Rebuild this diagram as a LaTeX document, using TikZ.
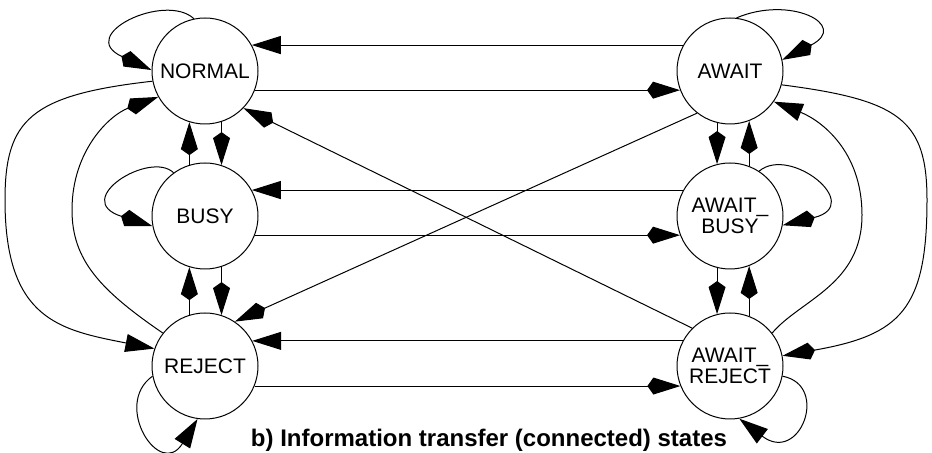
\documentclass[tikz,border=0pt]{standalone}
\usepackage{fontspec}
\setmainfont{Liberation Sans}
\usetikzlibrary{arrows.meta}

\begin{document}
\begin{tikzpicture}[x=0.5pt, y=-0.5pt, line width=0.5pt,
  state/.style={draw, circle, minimum size=53pt, inner sep=0pt, align=center,
    font=\fontsize{10.5}{10.5}\selectfont},
  flathead/.style={-{Triangle[length=14.5pt, width=9pt]}},
  kitehead/.style={-{Kite[length=16.5pt, width=8.5pt, inset=3pt]}}]

\useasboundingbox (0,0) rectangle (932,453);

\node[state] (normal) at (205,71) {NORMAL};
\node[state] (busy) at (205,216) {BUSY};
\node[state] (reject) at (205,366) {REJECT};
\node[state] (await) at (730,71) {AWAIT};
\node[state] (awaitbusy) at (730,216) {AWAIT\_\\BUSY};
\node[state] (awaitreject) at (730,366) {AWAIT\_\\REJECT};

% across
\draw[flathead] (await.151) -- (normal.29);
\draw[kitehead] (normal.-21) -- (await.201);
\draw[flathead] (awaitbusy.151) -- (busy.29);
\draw[kitehead] (busy.-21) -- (awaitbusy.201);
\draw[flathead] (awaitreject.152) -- (reject.28);
\draw[kitehead] (reject.-22) -- (awaitreject.202);

% up and down
\draw[kitehead] (busy.107) -- (normal.253);
\draw[kitehead] (normal.288) -- (busy.72);
\draw[kitehead] (reject.107) -- (busy.253);
\draw[kitehead] (busy.288) -- (reject.72);
\draw[kitehead] (await.256) -- (awaitbusy.104);
\draw[kitehead] (awaitbusy.69) -- (await.291);
\draw[kitehead] (awaitbusy.256) -- (awaitreject.104);
\draw[kitehead] (awaitreject.69) -- (awaitbusy.291);

% diagonals
\draw[kitehead] (awaitreject.135) -- (normal.-44);
\draw[kitehead] (await.232) -- (reject.56);

% self loops
\draw[kitehead] (normal.102) .. controls (165,-8) and (75,35) .. (normal.179);
\draw[kitehead] (busy.126) .. controls (150,150) and (70,200) .. (busy.191);
\draw[flathead] (reject.191) .. controls (112,405) and (160,480) .. (reject.262);
\draw[kitehead] (await.83) .. controls (790,-5) and (850,25) .. (await.12);
\draw[kitehead] (awaitbusy.57) .. controls (790,145) and (865,205) .. (awaitbusy.350);
\draw[flathead] (awaitreject.349) .. controls (830,385) and (800,465) .. (awaitreject.280);

% long way round
\draw[flathead] (normal.191) .. controls (30,95) and (5,120) .. (5,200)
  .. controls (5,320) and (60,330) .. (reject.161);
\draw[kitehead] (reject.142) .. controls (100,290) and (72,260) .. (72,210)
  .. controls (72,150) and (110,115) .. (normal.209);
\draw[kitehead] (await.345) .. controls (900,100) and (927,120) .. (927,200)
  .. controls (927,310) and (900,335) .. (awaitreject.11);
\draw[flathead] (awaitreject.38) .. controls (800,300) and (862,285) .. (862,215)
  .. controls (862,150) and (820,120) .. (await.325);

\node[font=\bfseries\fontsize{12}{14}\selectfont, anchor=base] (caption) at (489,447)
  {b) Information transfer (connected) states};

\end{tikzpicture}
\end{document}
